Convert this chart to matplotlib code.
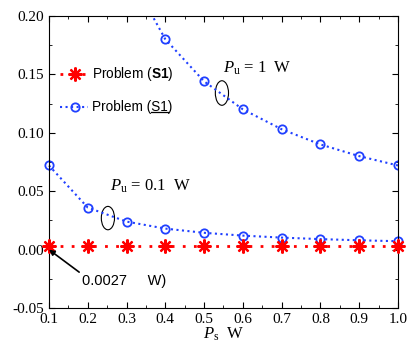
import matplotlib
matplotlib.use('Agg')
import matplotlib.pyplot as plt
from matplotlib.patches import Ellipse

# data
ps = [0.1, 0.2, 0.3, 0.4, 0.5, 0.6, 0.7, 0.8, 0.9, 1.0]
s1_bold = [0.0027, 0.0027, 0.0027, 0.0027, 0.0027, 0.0027, 0.0027, 0.0027, 0.0027, 0.0027]
s1_pu1 = [0.72, 0.36, 0.24, 0.18, 0.144, 0.12, 0.103, 0.09, 0.08, 0.072]
s1_pu01 = [0.072, 0.036, 0.024, 0.018, 0.0144, 0.012, 0.0103, 0.009, 0.008, 0.0072]
xticks = [0.1, 0.2, 0.3, 0.4, 0.5, 0.6, 0.7, 0.8, 0.9, 1.0]
yticks = [-0.05, 0.00, 0.05, 0.10, 0.15, 0.20]

plt.rcParams['font.family'] = 'Liberation Serif'
plt.rcParams['mathtext.fontset'] = 'custom'
plt.rcParams['mathtext.it'] = 'Liberation Serif:italic'
plt.rcParams['mathtext.rm'] = 'Liberation Serif'
plt.rcParams['mathtext.bf'] = 'Liberation Sans:bold'

red_ls = (0, (1, 3))
blue = '#2040ff'
star = (8, 2, 0)

fig = plt.figure(figsize=(4.15, 3.45), dpi=100)
ax = fig.add_axes([0.118, 0.107, 0.841, 0.847])

ax.plot(ps, s1_bold, color='red', linestyle=red_ls, linewidth=2, marker=star,
        markersize=10, markeredgewidth=1.6, clip_on=False, zorder=3)
ax.plot(ps, s1_pu1, color=blue, linestyle=':', linewidth=1.5, marker='o',
        markersize=6, markerfacecolor='none', markeredgewidth=1.3, clip_on=True)
ax.plot(ps, s1_pu01, color=blue, linestyle=':', linewidth=1.5, marker='o',
        markersize=6, markerfacecolor='none', markeredgewidth=1.3, clip_on=False)

ax.set_xlim(0.1, 1.0)
ax.set_ylim(-0.05, 0.20)
ax.set_xticks(xticks)
ax.set_yticks(yticks)
ax.set_xticklabels(['%.1f' % v for v in xticks])
ax.set_yticklabels(['%.2f' % v for v in yticks])
ax.xaxis.set_minor_locator(matplotlib.ticker.MultipleLocator(0.05))
ax.yaxis.set_minor_locator(matplotlib.ticker.MultipleLocator(0.025))
ax.tick_params(which='both', direction='in', top=True, right=True, labelsize=11)
ax.tick_params(which='major', length=4)
ax.tick_params(which='minor', length=2.5)
ax.set_xlabel(r'$P_{\mathrm{s}}$  W', fontsize=12, labelpad=0)

# legend by hand
leg_y = [0.150, 0.122]
fs = 9.8
ax.plot([0.128, 0.2], [leg_y[0]] * 2, color='red', linestyle=red_ls, linewidth=2)
ax.plot([0.167], [leg_y[0]], color='red', marker=star, markersize=10, markeredgewidth=1.6)
ax.text(0.211, leg_y[0], 'Problem ($\\mathbf{S1}$)', fontsize=fs,
        family='Liberation Sans', va='center')
ax.plot([0.128, 0.2], [leg_y[1]] * 2, color=blue, linestyle=':', linewidth=1.5)
ax.plot([0.167], [leg_y[1]], color=blue, marker='o', markersize=6,
        markerfacecolor='none', markeredgewidth=1.3)
t2 = ax.text(0.211, leg_y[1], 'Problem (S1)', fontsize=fs, family='Liberation Sans', va='center')

# underline under S1 (mathtext has no \underline)
fig.canvas.draw()
r = fig.canvas.get_renderer()
tmp_a = ax.text(0.211, leg_y[1], 'Problem (', fontsize=fs, family='Liberation Sans', va='center')
tmp_b = ax.text(0.211, leg_y[1], 'Problem (S1', fontsize=fs, family='Liberation Sans', va='center')
xa = tmp_a.get_window_extent(r).x1
xb = tmp_b.get_window_extent(r).x1
yb = t2.get_window_extent(r).y0
tmp_a.remove()
tmp_b.remove()
inv = ax.transData.inverted()
p0 = inv.transform((xa, yb + 2))
p1 = inv.transform((xb, yb + 2))
ax.plot([p0[0], p1[0]], [p0[1], p1[1]], color='black', linewidth=0.9)

ax.add_patch(Ellipse((0.546, 0.134), 0.034, 0.021, fill=False, color='black', linewidth=0.8))
ax.add_patch(Ellipse((0.252, 0.027), 0.034, 0.02, fill=False, color='black', linewidth=0.8))
ax.text(0.549, 0.155, r'$P_{\mathrm{u}}$ = 1  W', fontsize=12, va='center')
ax.text(0.257, 0.054, r'$P_{\mathrm{u}}$ = 0.1  W', fontsize=12, va='center')
ax.annotate('0.0027     W)', xy=(0.1, 0.0), xytext=(0.185, -0.027),
            fontsize=10.5, family=['Liberation Sans'], va='center', annotation_clip=False,
            arrowprops=dict(arrowstyle='-|>', color='black', linewidth=1.2,
                            shrinkA=0, shrinkB=0, mutation_scale=8,
                            relpos=(0.0, 1.0)))

fig.savefig('out.png', dpi=100)
